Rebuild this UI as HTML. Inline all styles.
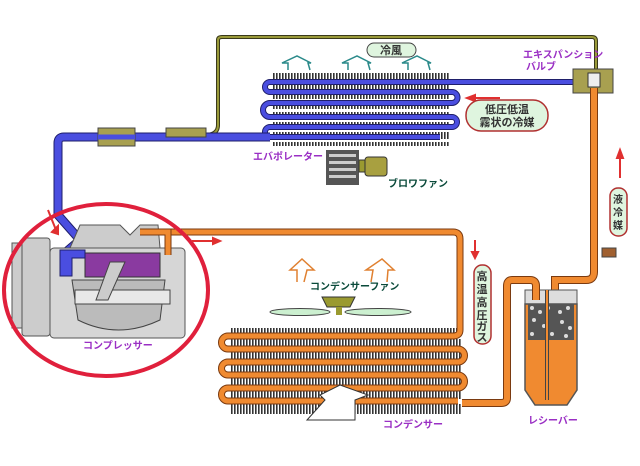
<!DOCTYPE html>
<html><head><meta charset="utf-8"><style>
html,body{margin:0;padding:0;background:#fff}
svg{display:block}
text{font-family:"Liberation Sans","Noto Sans CJK JP",sans-serif;font-weight:bold}
</style></head><body>
<svg width="640" height="466" viewBox="0 0 640 466" xmlns="http://www.w3.org/2000/svg">
<defs>
<pattern id="fin" width="3" height="6" patternUnits="userSpaceOnUse">
<rect width="3" height="6" fill="#fff"/><rect width="1.6" height="6" fill="#333"/>
</pattern>
</defs>
<path d="M205,135 Q218,135 218,125 L218,40 Q218,37 222,37 L592,37 Q596,37 596,41 L596,72" fill="none" stroke="#3a3a1a" stroke-width="4"/>
<path d="M205,135 Q218,135 218,125 L218,40 Q218,37 222,37 L592,37 Q596,37 596,41 L596,72" fill="none" stroke="#9a9a3a" stroke-width="2"/>
<rect x="273" y="73" width="177" height="73" fill="url(#fin)"/>
<g fill="#fff"><rect x="273" y="79" width="177" height="3"/><rect x="273" y="89" width="177" height="3"/><rect x="273" y="99" width="177" height="3"/><rect x="273" y="109" width="177" height="3"/><rect x="273" y="119" width="177" height="3"/><rect x="273" y="129" width="177" height="3"/><rect x="273" y="139" width="177" height="3"/></g>
<path d="M595,82 L270,82 A5,5 0 0 0 270,92 L452,92 A5.5,5.5 0 0 1 452,103 L270,103 A7,7 0 0 0 270,117 L452,117 A5,5 0 0 1 452,127 L270,127 A5,5 0 0 0 270,137 L440,137" fill="none" stroke="#1f1f6a" stroke-width="6"/>
<path d="M595,82 L270,82 A5,5 0 0 0 270,92 L452,92 A5.5,5.5 0 0 1 452,103 L270,103 A7,7 0 0 0 270,117 L452,117 A5,5 0 0 1 452,127 L270,127 A5,5 0 0 0 270,137 L440,137" fill="none" stroke="#4a4ee0" stroke-width="4"/>
<path d="M270,137 L64,137 Q58,137 58,143 L58,215 L80,240 L66,252 L66,272" fill="none" stroke="#1f1f6a" stroke-width="9"/>
<path d="M270,137 L64,137 Q58,137 58,143 L58,215 L80,240 L66,252 L66,272" fill="none" stroke="#4a4ee0" stroke-width="7"/>
<rect x="98" y="128" width="37" height="18" fill="#a8a050" stroke="#444" stroke-width="1"/>
<rect x="166" y="128" width="40" height="9" fill="#a8a050" stroke="#444" stroke-width="1"/>
<path d="M98,137 L135,137" stroke="#4a4ee0" stroke-width="5"/>
<rect x="573" y="69" width="40" height="24" fill="#a8a050" stroke="#444"/>
<rect x="588" y="73" width="12" height="14" fill="#eee" stroke="#333"/>
<path d="M594,88 L594,272 Q594,280 586,280 L555,280 L555,300" fill="none" stroke="#7a3a10" stroke-width="8"/>
<path d="M594,88 L594,272 Q594,280 586,280 L555,280 L555,300" fill="none" stroke="#f08a30" stroke-width="6"/>
<rect x="602" y="248" width="14" height="9" fill="#a06030" stroke="#444"/>
<rect x="525" y="290" width="52" height="14" fill="#ddd" stroke="#555"/>
<path d="M525,304 L577,304 L577,390 L567,405 L535,405 L525,390 Z" fill="#f08a30" stroke="#555" stroke-width="1.5"/>
<rect x="528" y="304" width="46" height="36" fill="#555"/>
<g fill="#ddd"><circle cx="532" cy="308" r="2"/><circle cx="540" cy="312" r="2"/><circle cx="548" cy="308" r="2"/><circle cx="560" cy="312" r="2"/><circle cx="568" cy="308" r="2"/><circle cx="534" cy="320" r="2"/><circle cx="544" cy="326" r="2"/><circle cx="562" cy="322" r="2"/><circle cx="570" cy="328" r="2"/><circle cx="532" cy="334" r="2"/><circle cx="552" cy="334" r="2"/><circle cx="566" cy="336" r="2"/></g>
<path d="M547,290 L547,400" stroke="#444" stroke-width="4"/>
<path d="M547,290 L547,400" stroke="#f08a30" stroke-width="2"/>
<path d="M536,300 L536,286 Q536,280 530,280 L512,280 Q507,280 507,286 L507,398 Q507,403 501,403 L455,403" fill="none" stroke="#7a3a10" stroke-width="8"/>
<path d="M536,300 L536,286 Q536,280 530,280 L512,280 Q507,280 507,286 L507,398 Q507,403 501,403 L455,403" fill="none" stroke="#f08a30" stroke-width="6"/>
<rect x="230" y="328" width="232" height="86" fill="url(#fin)"/>
<g fill="#fff"><rect x="230" y="334" width="232" height="5"/><rect x="230" y="347" width="232" height="5"/><rect x="230" y="360" width="232" height="5"/><rect x="230" y="373" width="232" height="5"/><rect x="230" y="386" width="232" height="5"/><rect x="230" y="399" width="232" height="5"/></g>
<path d="M140,232 L453,232 Q460,232 460,239 L460,330 Q460,336 453,336 L228,336 A6.5,6.5 0 0 0 228,349 L458,349 A6.5,6.5 0 0 1 458,362 L228,362 A6.5,6.5 0 0 0 228,375 L458,375 A6.5,6.5 0 0 1 458,388 L228,388 A6.5,6.5 0 0 0 228,401 L458,401" fill="none" stroke="#7a3a10" stroke-width="7"/>
<path d="M140,232 L453,232 Q460,232 460,239 L460,330 Q460,336 453,336 L228,336 A6.5,6.5 0 0 0 228,349 L458,349 A6.5,6.5 0 0 1 458,362 L228,362 A6.5,6.5 0 0 0 228,375 L458,375 A6.5,6.5 0 0 1 458,388 L228,388 A6.5,6.5 0 0 0 228,401 L458,401" fill="none" stroke="#f08a30" stroke-width="5"/>
<path d="M307,420 L325,400 L320,395 L340,385 L368,395 L355,400 L355,420 Z" fill="#fff" stroke="#333" stroke-width="1"/>
<path d="M322,297 L355,297 L350,307 L327,307 Z" fill="#9a9a30" stroke="#333"/>
<ellipse cx="300" cy="312" rx="30" ry="3.5" fill="#ccf0d0" stroke="#444"/>
<ellipse cx="378" cy="312" rx="33" ry="3.5" fill="#ccf0d0" stroke="#444"/>
<rect x="336" y="307" width="6" height="8" fill="#9a9a30"/>
<g fill="none" stroke="#e08030" stroke-width="1.5"><path d="M297,282 L297,270 L290,270 L302,259 L314,270 L307,270 L304,282"/><path d="M371,282 L373,270 L366,270 L382,259 L394,270 L388,270 L387,282"/></g>
<g fill="none" stroke="#2a8a8a" stroke-width="1.5"><path d="M288,70 L288,63 L282,63 L297,56 L311,63 L308,63 L310,70"/><path d="M348,70 L348,63 L342,63 L357,56 L371,63 L368,63 L370,70"/><path d="M408,70 L408,63 L402,63 L417,56 L431,63 L428,63 L430,70"/></g>
<rect x="326" y="150" width="33" height="35" fill="#555"/>
<g fill="#ccc"><rect x="329" y="154" width="27" height="3"/><rect x="329" y="161" width="27" height="3"/><rect x="329" y="168" width="27" height="3"/><rect x="329" y="175" width="27" height="3"/></g>
<rect x="359" y="160" width="6" height="12" fill="#9a9a30" stroke="#333"/>
<rect x="365" y="157" width="22" height="19" rx="3" fill="#a8a040" stroke="#333"/>
<rect x="12" y="243" width="15" height="85" fill="#ccc" stroke="#555"/>
<rect x="22" y="238" width="28" height="98" rx="3" fill="#ccc" stroke="#555"/>
<path d="M70,248 L80,225 L120,225 L130,235 L140,225 L158,225 L160,248 Z" fill="#ccc" stroke="#555"/>
<rect x="50" y="248" width="135" height="90" rx="4" fill="#d6d6d6" stroke="#555"/>
<rect x="85" y="253" width="75" height="24" fill="#8a3aa0" stroke="#333"/>
<path d="M72,280 L165,280 L160,320 Q118,340 78,320 Z" fill="#bbb" stroke="#444"/>
<rect x="75" y="290" width="95" height="14" fill="#e8e8e8" stroke="#444"/>
<path d="M110,262 L125,262 L108,300 L96,300 Z" fill="#ccc" stroke="#444"/>
<path d="M60,250 L85,250 L85,258 L72,258 L72,276 L60,276 Z" fill="#4a4ee0" stroke="#1f1f6a"/>
<path d="M140,232 L168,232 L168,255" fill="none" stroke="#7a3a10" stroke-width="7"/>
<path d="M140,232 L168,232 L168,255" fill="none" stroke="#f08a30" stroke-width="5"/>
<ellipse cx="106" cy="290" rx="102" ry="86" fill="none" stroke="#e0203c" stroke-width="4"/>
<g stroke="#e03030" stroke-width="2" fill="#e03030">
<path d="M48,210 L56,230" fill="none"/><path d="M52,232 L58,234 L58,226 Z"/>
<path d="M192,241 L213,241" fill="none"/><path d="M213,238 L220,241 L213,244 Z"/>
<path d="M475,240 L475,252" fill="none"/><path d="M472,252 L475,258 L478,252 Z"/>
<path d="M620,178 L620,158" fill="none"/><path d="M617,158 L620,150 L623,158 Z"/>
<path d="M475,98 L500,98" fill="none"/><path d="M475,95 L467,98 L475,101 Z"/>
</g>
<rect x="367" y="43" width="49" height="14" rx="7" fill="#dff5df" stroke="#444"/>
<text x="391" y="54" font-size="11" text-anchor="middle" fill="#333">冷風</text>
<rect x="466" y="100" width="82" height="31" rx="15" fill="#dff5df" stroke="#b03030" stroke-width="1.5"/>
<text x="507" y="113" font-size="11" text-anchor="middle" fill="#333">低圧低温</text>
<text x="507" y="126" font-size="11" text-anchor="middle" fill="#333">霧状の冷媒</text>
<rect x="610" y="188" width="17" height="48" rx="8" fill="#dff5df" stroke="#b03030" stroke-width="1.5"/>
<text font-size="10" text-anchor="middle" fill="#333"><tspan x="618" y="203">液</tspan><tspan x="618" y="216">冷</tspan><tspan x="618" y="229">媒</tspan></text>
<rect x="474" y="265" width="17" height="79" rx="8" fill="#dff5df" stroke="#b03030" stroke-width="1.5"/>
<text font-size="11" text-anchor="middle" fill="#333"><tspan x="482" y="280">高</tspan><tspan x="482" y="293">温</tspan><tspan x="482" y="306">高</tspan><tspan x="482" y="319">圧</tspan><tspan x="482" y="330">ガ</tspan><tspan x="482" y="341">ス</tspan></text>
<g font-size="10" fill="#9a2fc4">
<text x="523" y="58">エキスパンション</text>
<text x="526" y="70">バルブ</text>
<text x="253" y="160">エバポレーター</text>
<text x="83" y="349">コンプレッサー</text>
<text x="383" y="428">コンデンサー</text>
<text x="528" y="424">レシーバー</text>
</g>
<g font-size="10" fill="#0a4a3a">
<text x="388" y="187">ブロワファン</text>
<text x="310" y="290">コンデンサーファン</text>
</g>
</svg>
</body></html>
